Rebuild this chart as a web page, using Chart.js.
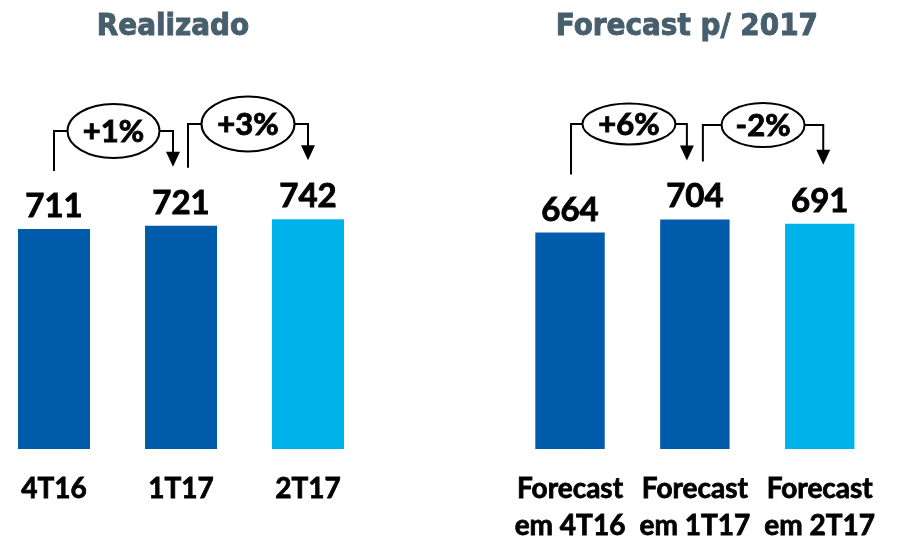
<!DOCTYPE html>
<html>
<head>
<meta charset="utf-8">
<script src="https://cdn.jsdelivr.net/npm/chart.js@4.4.0/dist/chart.umd.min.js"></script>
<style>
  html, body { margin: 0; padding: 0; background: #fff; width: 899px; height: 540px; overflow: hidden; }
  .panel { position: absolute; top: 0; height: 580px; }
  #left { left: -20px; width: 420px; }
  #right { left: 480px; width: 419px; }
</style>
</head>
<body>
<div class="panel" id="left"><canvas id="chartLeft"></canvas></div>
<div class="panel" id="right"><canvas id="chartRight"></canvas></div>
<script>
"use strict";

// data
const realLabels = ["4T16", "1T17", "2T17"];
const realValues = [711, 721, 742];
const realChanges = ["+1%", "+3%"];

const fcLabels = [["Forecast", "em 4T16"], ["Forecast", "em 1T17"], ["Forecast", "em 2T17"]];
const fcValues = [664, 704, 691];
const fcChanges = ["+6%", "-2%"];

const barColors = ["#005BAA", "#005BAA", "#00B2EA"];

// heavy text: fill plus a thin stroke of the same colour
function boldText(ctx, txt, x, y, color) {
  ctx.fillStyle = color;
  ctx.strokeStyle = color;
  ctx.lineWidth = 0.9;
  ctx.fillText(txt, x, y);
  ctx.strokeText(txt, x, y);
}

// values above the bars, panel title and the "% change" bubbles with arrows
const annotate = {
  id: "annotate",
  afterDatasetsDraw(chart, args, opts) {
    const ctx = chart.ctx;
    const bars = chart.getDatasetMeta(0).data;
    const values = chart.data.datasets[0].data;
    ctx.save();

    ctx.textAlign = "center";
    ctx.textBaseline = "alphabetic";
    ctx.font = "bold 33px Lato";
    bars.forEach((b, i) => boldText(ctx, values[i], b.x, b.y - 12, "#000"));

    ctx.font = "bold 31px 'DejaVu Sans Condensed'";
    boldText(ctx, opts.title, bars[1].x - 8, 35, "#475F6C");

    opts.changes.forEach((txt, i) => {
      const s = opts.bubbles[i];
      const a = bars[i], b = bars[i + 1];
      const x0 = a.x + s.dx0, y0 = a.y - 58;
      const x1 = b.x + s.dx1, y1 = b.y - 59;
      const cx = (x0 + x1) / 2;

      ctx.strokeStyle = "#000";
      ctx.lineWidth = 2;
      ctx.beginPath();
      ctx.moveTo(x0, y0);
      ctx.lineTo(x0, s.y);
      ctx.lineTo(cx - s.rx, s.y);
      ctx.moveTo(cx + s.rx, s.y);
      ctx.lineTo(x1, s.y);
      ctx.lineTo(x1, y1 - 14);
      ctx.stroke();

      ctx.beginPath();
      ctx.moveTo(x1 - 7, y1 - 15);
      ctx.lineTo(x1 + 7, y1 - 15);
      ctx.lineTo(x1, y1);
      ctx.closePath();
      ctx.fillStyle = "#000";
      ctx.fill();

      ctx.beginPath();
      ctx.ellipse(cx, s.y, s.rx, s.ry, 0, 0, Math.PI * 2);
      ctx.fillStyle = "#fff";
      ctx.fill();
      ctx.stroke();

      ctx.font = "bold 31px Lato";
      ctx.textBaseline = "middle";
      boldText(ctx, txt, cx, s.y + 1, "#000");
      ctx.textBaseline = "alphabetic";
    });
    ctx.restore();
  }
};

function buildChart(canvasId, labels, values, barPct, padding, title, changes, bubbles) {
  return new Chart(document.getElementById(canvasId), {
    type: "bar",
    data: {
      labels: labels,
      datasets: [{
        data: values,
        backgroundColor: barColors,
        borderWidth: 0,
        categoryPercentage: 1,
        barPercentage: barPct
      }]
    },
    options: {
      responsive: true,
      maintainAspectRatio: false,
      animation: false,
      devicePixelRatio: 1,
      layout: { padding: padding },
      plugins: {
        legend: { display: false },
        tooltip: { enabled: false },
        annotate: { title: title, changes: changes, bubbles: bubbles }
      },
      scales: {
        x: {
          grid: { display: false, drawTicks: false },
          border: { display: false },
          ticks: {
            color: "#000",
            textStrokeColor: "#000",
            textStrokeWidth: 0.8,
            padding: 22,
            autoSkip: false,
            maxRotation: 0,
            font: { family: "Lato", size: 28, weight: "bold", lineHeight: 1.32 }
          }
        },
        y: { display: false, min: 0, max: 1000 }
      }
    },
    plugins: [annotate]
  });
}

buildChart("chartLeft", realLabels, realValues, 0.567,
  { left: 10.5, right: 28.5, top: 139.5, bottom: 50.1 },
  "Realizado", realChanges,
  [
    { dx0: 0, dx1: -8, y: 131, rx: 46, ry: 27 },
    { dx0: 7, dx1: 0, y: 124, rx: 46.5, ry: 27.5 }
  ]);

buildChart("chartRight", fcLabels, fcValues, 0.556,
  { left: 27.6, right: 11.4, top: 123, bottom: 13.1 },
  "Forecast p/ 2017", fcChanges,
  [
    { dx0: 1, dx1: -8, y: 124, rx: 46.5, ry: 20.5 },
    { dx0: 8, dx1: 3.5, y: 125, rx: 41.5, ry: 22 }
  ]);
</script>
</body>
</html>
